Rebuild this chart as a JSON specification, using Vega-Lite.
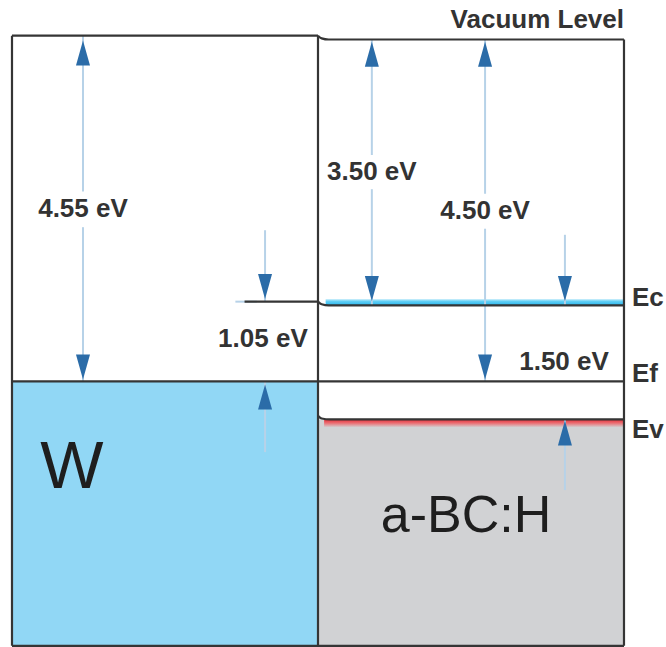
{
  "$schema": "https://vega.github.io/schema/vega-lite/v6.json",
  "width": 666,
  "height": 647,
  "autosize": {"type": "fit", "contains": "padding"},
  "padding": 0,
  "background": "#ffffff",
  "config": {"view": {"stroke": null}},
  "datasets": {
    "regions": [
      {"material": "W", "x0": -1.0, "x1": 0.0, "e0": -8.03, "e1": -4.55},
      {"material": "a-BC:H", "x0": 0.0, "x1": 1.0, "e0": -8.03, "e1": -5.05}
    ],
    "edges": [
      {"part": "W left edge", "x0": -1.0, "x1": -1.0, "e0": -8.03, "e1": 0.0},
      {"part": "interface", "x0": 0.0, "x1": 0.0, "e0": -8.03, "e1": 0.0},
      {"part": "a-BC:H right edge", "x0": 1.0, "x1": 1.0, "e0": -8.03, "e1": -0.05},
      {"part": "bottom", "x0": -1.0, "x1": 1.0, "e0": -8.03, "e1": -8.03},
      {"part": "W vacuum level", "x0": -1.0, "x1": 0.0, "e0": 0.0, "e1": 0.0},
      {"part": "Fermi level", "x0": -1.0, "x1": 1.0, "e0": -4.55, "e1": -4.55},
      {"part": "Ec at interface", "x0": -0.24, "x1": 0.0, "e0": -3.5, "e1": -3.5}
    ],
    "bands": [
      {"band": "Ec", "x": [0, 0.012, 0.035, 0.1, 1.0], "e": [-3.5, -3.535, -3.55, -3.55, -3.55]},
      {"band": "vacuum", "x": [0, 0.012, 0.035, 0.1, 1.0], "e": [0.0, -0.035, -0.05, -0.05, -0.05]},
      {"band": "Ev", "x": [0, 0.012, 0.04, 0.1, 1.0], "e": [-5.0, -5.038, -5.05, -5.05, -5.05]}
    ],
    "shafts": [
      {"gap": "4.55", "x": -0.768, "e0": 0.0, "e1": -2.05},
      {"gap": "4.55", "x": -0.768, "e0": -2.52, "e1": -4.55},
      {"gap": "3.50", "x": 0.176, "e0": -0.05, "e1": -1.57},
      {"gap": "3.50", "x": 0.176, "e0": -2.02, "e1": -3.55},
      {"gap": "4.50", "x": 0.546, "e0": -0.05, "e1": -2.08},
      {"gap": "4.50", "x": 0.546, "e0": -2.54, "e1": -4.55},
      {"gap": "1.05", "x": -0.173, "e0": -2.56, "e1": -3.5},
      {"gap": "1.05", "x": -0.173, "e0": -4.55, "e1": -5.48},
      {"gap": "1.50", "x": 0.807, "e0": -2.62, "e1": -3.55},
      {"gap": "1.50", "x": 0.807, "e0": -5.05, "e1": -5.98}
    ],
    "heads": [
      {"gap": "4.55", "x": -0.768, "e": -0.228, "dir": "up"},
      {"gap": "4.55", "x": -0.768, "e": -4.36, "dir": "down"},
      {"gap": "3.50", "x": 0.176, "e": -0.245, "dir": "up"},
      {"gap": "3.50", "x": 0.176, "e": -3.327, "dir": "down"},
      {"gap": "4.50", "x": 0.546, "e": -0.245, "dir": "up"},
      {"gap": "4.50", "x": 0.546, "e": -4.36, "dir": "down"},
      {"gap": "1.05", "x": -0.173, "e": -3.3, "dir": "down"},
      {"gap": "1.05", "x": -0.173, "e": -4.755, "dir": "up"},
      {"gap": "1.50", "x": 0.807, "e": -3.327, "dir": "down"},
      {"gap": "1.50", "x": 0.807, "e": -5.23, "dir": "up"}
    ],
    "values": [
      {"label": "4.55 eV", "x": -0.768, "e": -2.281},
      {"label": "3.50 eV", "x": 0.176, "e": -1.794},
      {"label": "4.50 eV", "x": 0.546, "e": -2.307},
      {"label": "1.05 eV", "x": -0.18, "e": -3.992},
      {"label": "1.50 eV", "x": 0.804, "e": -4.294}
    ],
    "levels": [
      {"label": "Ec", "x": 1.026, "e": -3.446},
      {"label": "Ef", "x": 1.026, "e": -4.453},
      {"label": "Ev", "x": 1.026, "e": -5.189}
    ],
    "materials": [
      {"label": "W", "x": -0.804, "e": -5.69, "size": 67},
      {"label": "a-BC:H", "x": 0.484, "e": -6.32, "size": 52}
    ],
    "title": [
      {"label": "Vacuum Level", "x": 1.0, "e": 0.207}
    ]
  },
  "layer": [
    {
      "data": {"name": "regions"},
      "mark": {"type": "rect"},
      "encoding": {
        "x": {"field": "x0", "type": "quantitative", "scale": {"domain": [-1.0392, 1.1373], "nice": false, "zero": false}, "axis": null},
        "x2": {"field": "x1"},
        "y": {"field": "e0", "type": "quantitative", "scale": {"domain": [-8.045, 0.47], "nice": false, "zero": false}, "axis": null},
        "y2": {"field": "e1"},
        "color": {"field": "material", "type": "nominal", "scale": {"domain": ["W", "a-BC:H"], "range": ["#91d7f5", "#d1d2d4"]}, "legend": null}
      }
    },
    {
      "data": {"values": [{"x0": 0.025, "x1": 1.0, "e0": -3.55, "e1": -3.465}]},
      "mark": {
        "type": "rect",
        "color": {"gradient": "linear", "x1": 0, "y1": 0, "x2": 0, "y2": 1,
          "stops": [{"offset": 0, "color": "#d6f2fc"}, {"offset": 0.35, "color": "#62cff5"}, {"offset": 1, "color": "#27b5ec"}]}
      },
      "encoding": {
        "x": {"field": "x0", "type": "quantitative", "scale": {"domain": [-1.0392, 1.1373], "nice": false, "zero": false}, "axis": null},
        "x2": {"field": "x1"},
        "y": {"field": "e0", "type": "quantitative", "scale": {"domain": [-8.045, 0.47], "nice": false, "zero": false}, "axis": null},
        "y2": {"field": "e1"}
      }
    },
    {
      "data": {"values": [{"x0": 0.02, "x1": 1.0, "e0": -5.05, "e1": -5.155}]},
      "mark": {
        "type": "rect",
        "color": {"gradient": "linear", "x1": 0, "y1": 0, "x2": 0, "y2": 1,
          "stops": [{"offset": 0, "color": "#e2313a"}, {"offset": 0.45, "color": "#ec6c71"}, {"offset": 1, "color": "#d1d2d4"}]}
      },
      "encoding": {
        "x": {"field": "x0", "type": "quantitative", "scale": {"domain": [-1.0392, 1.1373], "nice": false, "zero": false}, "axis": null},
        "x2": {"field": "x1"},
        "y": {"field": "e0", "type": "quantitative", "scale": {"domain": [-8.045, 0.47], "nice": false, "zero": false}, "axis": null},
        "y2": {"field": "e1"}
      }
    },
    {
      "data": {"name": "shafts"},
      "mark": {"type": "rule", "color": "#b7d2e8", "strokeWidth": 2},
      "encoding": {
        "x": {"field": "x", "type": "quantitative", "scale": {"domain": [-1.0392, 1.1373], "nice": false, "zero": false}, "axis": null},
        "y": {"field": "e0", "type": "quantitative", "scale": {"domain": [-8.045, 0.47], "nice": false, "zero": false}, "axis": null},
        "y2": {"field": "e1"}
      }
    },
    {
      "data": {"values": [{"x0": -0.27, "x1": -0.2, "e": -3.5}]},
      "mark": {"type": "rule", "color": "#b7d2e8", "strokeWidth": 2},
      "encoding": {
        "x": {"field": "x0", "type": "quantitative", "scale": {"domain": [-1.0392, 1.1373], "nice": false, "zero": false}, "axis": null},
        "x2": {"field": "x1"},
        "y": {"field": "e", "type": "quantitative", "scale": {"domain": [-8.045, 0.47], "nice": false, "zero": false}, "axis": null}
      }
    },
    {
      "data": {"name": "edges"},
      "mark": {"type": "rule", "color": "#353535", "strokeWidth": 2.2},
      "encoding": {
        "x": {"field": "x0", "type": "quantitative", "scale": {"domain": [-1.0392, 1.1373], "nice": false, "zero": false}, "axis": null},
        "x2": {"field": "x1"},
        "y": {"field": "e0", "type": "quantitative", "scale": {"domain": [-8.045, 0.47], "nice": false, "zero": false}, "axis": null},
        "y2": {"field": "e1"}
      }
    },
    {
      "data": {"name": "bands"},
      "transform": [{"flatten": ["x", "e"]}],
      "mark": {"type": "line", "color": "#353535", "strokeWidth": 2.2, "interpolate": "monotone"},
      "encoding": {
        "x": {"field": "x", "type": "quantitative", "scale": {"domain": [-1.0392, 1.1373], "nice": false, "zero": false}, "axis": null},
        "y": {"field": "e", "type": "quantitative", "scale": {"domain": [-8.045, 0.47], "nice": false, "zero": false}, "axis": null},
        "detail": {"field": "band", "type": "nominal"}
      }
    },
    {
      "data": {"name": "heads"},
      "mark": {"type": "point", "filled": true, "opacity": 1, "color": "#2b6ca8", "size": 625},
      "encoding": {
        "x": {"field": "x", "type": "quantitative", "scale": {"domain": [-1.0392, 1.1373], "nice": false, "zero": false}, "axis": null},
        "y": {"field": "e", "type": "quantitative", "scale": {"domain": [-8.045, 0.47], "nice": false, "zero": false}, "axis": null},
        "shape": {"field": "dir", "type": "nominal", "scale": {"domain": ["up", "down"], "range": ["M0,-1L0.56,1L-0.56,1Z", "M0,1L0.56,-1L-0.56,-1Z"]}, "legend": null}
      }
    },
    {
      "data": {"name": "values"},
      "mark": {"type": "text", "font": "Liberation Sans", "fontWeight": "bold", "fontSize": 26, "color": "#333333", "align": "center", "baseline": "middle"},
      "encoding": {
        "x": {"field": "x", "type": "quantitative", "scale": {"domain": [-1.0392, 1.1373], "nice": false, "zero": false}, "axis": null},
        "y": {"field": "e", "type": "quantitative", "scale": {"domain": [-8.045, 0.47], "nice": false, "zero": false}, "axis": null},
        "text": {"field": "label"}
      }
    },
    {
      "data": {"name": "levels"},
      "mark": {"type": "text", "font": "Liberation Sans", "fontWeight": "bold", "fontSize": 26, "color": "#333333", "align": "left", "baseline": "middle"},
      "encoding": {
        "x": {"field": "x", "type": "quantitative", "scale": {"domain": [-1.0392, 1.1373], "nice": false, "zero": false}, "axis": null},
        "y": {"field": "e", "type": "quantitative", "scale": {"domain": [-8.045, 0.47], "nice": false, "zero": false}, "axis": null},
        "text": {"field": "label"}
      }
    },
    {
      "data": {"name": "title"},
      "mark": {"type": "text", "font": "Liberation Sans", "fontWeight": "bold", "fontSize": 26, "color": "#333333", "align": "right", "baseline": "middle"},
      "encoding": {
        "x": {"field": "x", "type": "quantitative", "scale": {"domain": [-1.0392, 1.1373], "nice": false, "zero": false}, "axis": null},
        "y": {"field": "e", "type": "quantitative", "scale": {"domain": [-8.045, 0.47], "nice": false, "zero": false}, "axis": null},
        "text": {"field": "label"}
      }
    },
    {
      "data": {"name": "materials"},
      "mark": {"type": "text", "font": "Liberation Sans", "color": "#1e1e1e", "align": "center", "baseline": "middle"},
      "encoding": {
        "x": {"field": "x", "type": "quantitative", "scale": {"domain": [-1.0392, 1.1373], "nice": false, "zero": false}, "axis": null},
        "y": {"field": "e", "type": "quantitative", "scale": {"domain": [-8.045, 0.47], "nice": false, "zero": false}, "axis": null},
        "size": {"field": "size", "type": "quantitative", "scale": null},
        "text": {"field": "label"}
      }
    }
  ]
}
